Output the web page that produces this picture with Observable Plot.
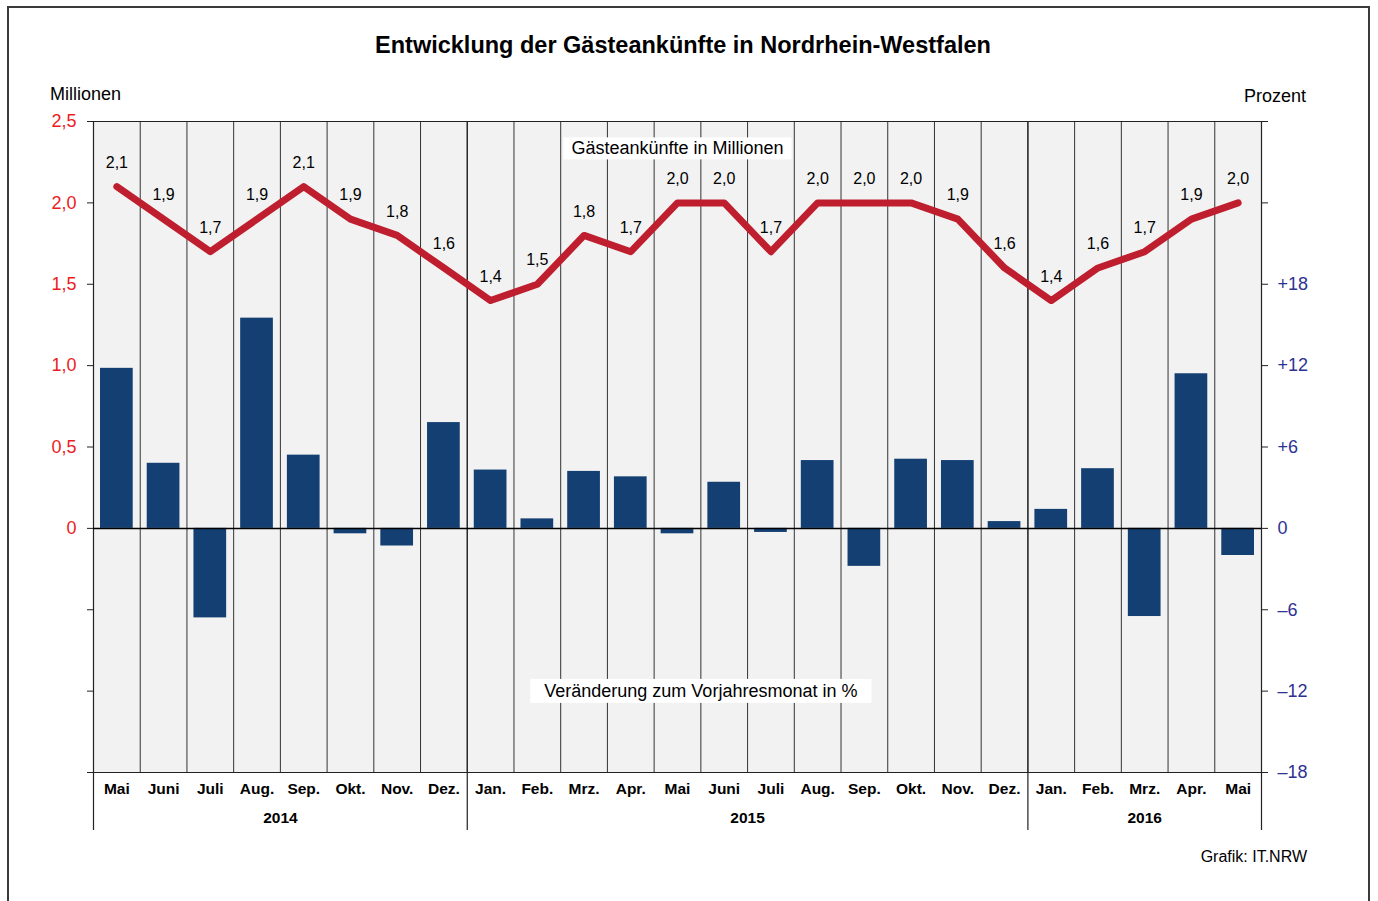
<!DOCTYPE html>
<html><head><meta charset="utf-8">
<script src="https://cdn.jsdelivr.net/npm/d3@7"></script>
<script src="https://cdn.jsdelivr.net/npm/@observablehq/plot@0.6"></script>
<style>
html,body{margin:0;padding:0;background:#fff;overflow:hidden;}
body{width:1378px;height:901px;position:relative;font-family:"Liberation Sans",Arial,sans-serif;color:#000;}
#frame{position:absolute;left:7px;top:6px;width:1363px;height:1000px;border:2px solid #3a3a3a;box-sizing:border-box;}
.t{position:absolute;white-space:nowrap;line-height:1;}
#chart{position:absolute;left:0;top:0;}
</style></head><body>
<div id="frame"></div>
<div id="chart"></div>
<div class="t" style="left:0;width:1366px;text-align:center;top:34px;font-size:23.5px;font-weight:bold">Entwicklung der Gästeankünfte in Nordrhein-Westfalen</div>
<div class="t" style="left:50px;top:85px;font-size:18px">Millionen</div>
<div class="t" style="right:72px;top:87px;font-size:18px">Prozent</div>
<div class="t" style="right:71px;top:849px;font-size:16px">Grafik: IT.NRW</div>
<script>
// ---- data ----
const months = ["Mai","Juni","Juli","Aug.","Sep.","Okt.","Nov.","Dez.","Jan.","Feb.","Mrz.","Apr.","Mai","Juni","Juli","Aug.","Sep.","Okt.","Nov.","Dez.","Jan.","Feb.","Mrz.","Apr.","Mai"];
const arrivals = [2.1,1.9,1.7,1.9,2.1,1.9,1.8,1.6,1.4,1.5,1.8,1.7,2.0,2.0,1.7,2.0,2.0,2.0,1.9,1.6,1.4,1.6,1.7,1.9,2.0]; // Mill.
const change = [11.8,4.8,-6.6,15.5,5.4,-0.4,-1.3,7.8,4.3,0.7,4.2,3.8,-0.4,3.4,-0.3,5.0,-2.8,5.1,5.0,0.5,1.4,4.4,-6.5,11.4,-2.0]; // %
const years = ["2014","2015","2016"];
const monthsPerYear = [8,12,5];
const pctTicks = [-18,-12,-6,0,6,12,18,24,30];
const lineTitle = "Gästeankünfte in Millionen";
const barTitle = "Veränderung zum Vorjahresmonat in %";

// ---- derived ----
const n = months.length;
const ratio = 12; // 1 Mill. on left axis == 12 % on right axis
const rows = months.map((m, i) => ({i, month: m, arr: arrivals[i], chg: change[i]}));
let acc = 0;
const yearRows = years.map((y, k) => { const s = acc; acc += monthsPerYear[k]; return {year: y, start: s, end: acc}; });
const bounds = [0, ...yearRows.map(d => d.end)];
const fmt = v => v.toFixed(1).replace(".", ",");

const W = 1378, H = 840;
const font = "Liberation Sans, Arial, sans-serif";
const plot = Plot.plot({
  width: W, height: H,
  marginLeft: 93, marginRight: W - 1261, marginTop: 121, marginBottom: H - 772,
  x: {type: "linear", domain: [0, n], axis: null},
  y: {type: "linear", domain: [-18, 30], axis: null},
  style: {fontFamily: font, background: "transparent", overflow: "visible"},
  marks: [
    Plot.frame({fill: "#f2f2f2", stroke: "none"}),
    Plot.ruleX(d3.range(1, n), {stroke: "#333", strokeWidth: 1}),
    Plot.ruleX(bounds, {stroke: "#222", strokeWidth: 1.2, insetBottom: -58}),
    Plot.ruleY([30, -18], {stroke: "#222", strokeWidth: 1}),
    Plot.rectY(rows, {x1: d => d.i + 0.15, x2: d => d.i + 0.85, y1: 0, y2: "chg", fill: "#133f72"}),
    Plot.ruleY([0], {stroke: "#000", strokeWidth: 1.5}),
    Plot.line(rows, {x: d => d.i + 0.5, y: d => d.arr * ratio, stroke: "#be1e2d", strokeWidth: 7, strokeLinejoin: "round", strokeLinecap: "round"}),
    Plot.text(rows, {x: d => d.i + 0.5, y: d => d.arr * ratio, text: d => fmt(d.arr), dy: -24, fontSize: 16, fill: "#000"}),
    Plot.axisY(pctTicks, {anchor: "left", tickSize: 6, tickPadding: 11, fontSize: 18, stroke: "#222", fill: "#ed1c24",
      tickFormat: v => v < 0 ? "" : (v === 0 ? "0" : fmt(v / ratio)), label: null}),
    Plot.axisY(pctTicks, {anchor: "right", tickSize: 6, tickPadding: 10, fontSize: 18, stroke: "#222", fill: "#2e3192",
      tickFormat: v => v > 18 ? "" : (v > 0 ? "+" + v : (v === 0 ? "0" : "\u2013" + (-v))), label: null}),
    Plot.text(rows, {x: d => d.i + 0.5, frameAnchor: "bottom", dy: 21, text: "month", fontWeight: "bold", fontSize: 15.5, fill: "#000"}),
    Plot.text(yearRows, {x: d => (d.start + d.end) / 2, frameAnchor: "bottom", dy: 50, text: "year", fontWeight: "bold", fontSize: 15.5, fill: "#000"}),
    Plot.text([lineTitle], {x: () => n / 2, y: () => 28, text: d => d, fontSize: 18, fill: "#000"}),
    Plot.text([barTitle], {x: () => n / 2 + 0.5, y: () => -12, text: d => d, fontSize: 18, fill: "#000"})
  ]
});
document.getElementById("chart").appendChild(plot);

// white boxes behind the two series captions
const pads = {[lineTitle]: [8, 1], [barTitle]: [14, 2]};
d3.select(plot).selectAll("text").filter(function() { return pads[this.textContent] !== undefined; }).each(function() {
  const [px, py] = pads[this.textContent];
  const b = this.getBBox();
  const r = document.createElementNS("http://www.w3.org/2000/svg", "rect");
  r.setAttribute("x", b.x - px); r.setAttribute("y", b.y - py);
  r.setAttribute("width", b.width + 2 * px); r.setAttribute("height", b.height + 2 * py);
  r.setAttribute("fill", "#fff");
  const tr = this.getAttribute("transform");
  if (tr) r.setAttribute("transform", tr);
  this.parentNode.insertBefore(r, this);
});
</script>
</body></html>
